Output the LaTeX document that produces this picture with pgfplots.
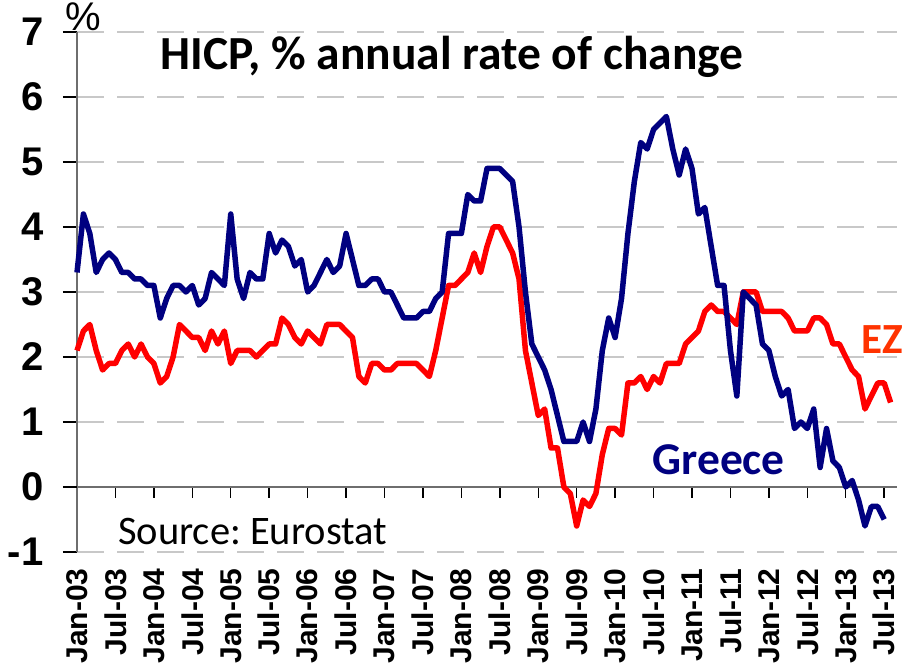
\documentclass[border=0pt]{standalone}
\usepackage{fontspec}
\setmainfont{Carlito}
\newfontfamily\arial{Liberation Sans}
\usepackage{pgfplots}
\pgfplotsset{compat=1.18}
\usepackage{pgfplotstable}
\definecolor{grc}{RGB}{0,0,128}
\definecolor{ezc}{RGB}{255,0,0}
\definecolor{ezlab}{RGB}{255,51,0}
\definecolor{gridc}{RGB}{200,200,200}
\definecolor{axc}{RGB}{110,110,110}

% Greece, monthly, Jan-03 .. Jul-13
\pgfplotstableread{
v
3.3
4.2
3.9
3.3
3.5
3.6
3.5
3.3
3.3
3.2
3.2
3.1
3.1
2.6
2.9
3.1
3.1
3.0
3.1
2.8
2.9
3.3
3.2
3.1
4.2
3.2
2.9
3.3
3.2
3.2
3.9
3.6
3.8
3.7
3.4
3.5
3.0
3.1
3.3
3.5
3.3
3.4
3.9
3.5
3.1
3.1
3.2
3.2
3.0
3.0
2.8
2.6
2.6
2.6
2.7
2.7
2.9
3.0
3.9
3.9
3.9
4.5
4.4
4.4
4.9
4.9
4.9
4.8
4.7
4.0
3.0
2.2
2.0
1.8
1.5
1.1
0.7
0.7
0.7
1.0
0.7
1.2
2.1
2.6
2.3
2.9
3.9
4.7
5.3
5.2
5.5
5.6
5.7
5.2
4.8
5.2
4.9
4.2
4.3
3.7
3.1
3.1
2.1
1.4
3.0
2.9
2.8
2.2
2.1
1.7
1.4
1.5
0.9
1.0
0.9
1.2
0.3
0.9
0.4
0.3
0.0
0.1
-0.2
-0.6
-0.3
-0.3
-0.5
}\greece

% Euro zone, monthly, Jan-03 .. Aug-13
\pgfplotstableread{
v
2.1
2.4
2.5
2.1
1.8
1.9
1.9
2.1
2.2
2.0
2.2
2.0
1.9
1.6
1.7
2.0
2.5
2.4
2.3
2.3
2.1
2.4
2.2
2.4
1.9
2.1
2.1
2.1
2.0
2.1
2.2
2.2
2.6
2.5
2.3
2.2
2.4
2.3
2.2
2.5
2.5
2.5
2.4
2.3
1.7
1.6
1.9
1.9
1.8
1.8
1.9
1.9
1.9
1.9
1.8
1.7
2.1
2.6
3.1
3.1
3.2
3.3
3.6
3.3
3.7
4.0
4.0
3.8
3.6
3.2
2.1
1.6
1.1
1.2
0.6
0.6
0.0
-0.1
-0.6
-0.2
-0.3
-0.1
0.5
0.9
0.9
0.8
1.6
1.6
1.7
1.5
1.7
1.6
1.9
1.9
1.9
2.2
2.3
2.4
2.7
2.8
2.7
2.7
2.6
2.5
3.0
3.0
3.0
2.7
2.7
2.7
2.7
2.6
2.4
2.4
2.4
2.6
2.6
2.5
2.2
2.2
2.0
1.8
1.7
1.2
1.4
1.6
1.6
1.3
}\ez

\begin{document}
\frenchspacing
\begin{tikzpicture}
\useasboundingbox (0,0) rectangle (906bp,669bp);
% zero line with tick marks
\begin{axis}[
  at={(77bp,117bp)}, anchor=south west,
  scale only axis, width=820bp, height=520bp,
  xmin=0, xmax=128, ymin=-1, ymax=7,
  axis x line=middle, axis y line=none,
  axis line style={-},
  x axis line style={draw=axc, line width=1.6bp},
  xtick={0,6,...,126}, xticklabels={},
  ytick=\empty,
  tick align=outside, major tick length=11bp,
  xtick style={black, line width=1.4bp},
]
\end{axis}
% main axis
\begin{axis}[
  at={(77bp,117bp)}, anchor=south west,
  scale only axis, width=820bp, height=520bp,
  xmin=0, xmax=128, ymin=-1, ymax=7,
  axis y line=left, axis x line=bottom,
  axis line style={-},
  x axis line style={draw=none},
  y axis line style={draw=axc, line width=1.6bp},
  xtick={0,6,...,126},
  xticklabels={Jan-03,Jul-03,Jan-04,Jul-04,Jan-05,Jul-05,Jan-06,Jul-06,Jan-07,Jul-07,Jan-08,Jul-08,Jan-09,Jul-09,Jan-10,Jul-10,Jan-11,Jul-11,Jan-12,Jul-12,Jan-13,Jul-13},
  xtick style={draw=none},
  ytick={-1,1,2,3,4,5,6,7},
  yticklabels={-1,1,2,3,4,5,6,7},
  extra y ticks={0}, extra y tick labels={0},
  extra y tick style={grid=none},
  tick align=outside, major tick length=14bp,
  ytick style={black, line width=1.4bp},
  ymajorgrids,
  major grid style={gridc, line width=1.6bp, dash pattern=on 27bp off 13bp},
  xticklabel style={rotate=90, anchor=east, font=\arial\bfseries\fontsize{30bp}{30bp}\selectfont, xshift=1bp},
  yticklabel style={anchor=east, xshift=-16bp, font=\arial\bfseries\fontsize{40bp}{40bp}\selectfont},
  clip=false,
]
\addplot[ezc, line width=5.5bp, line join=round] table[x expr=\coordindex, y=v] {\ez};
\addplot[grc, line width=5.5bp, line join=round] table[x expr=\coordindex, y=v] {\greece};
\node[anchor=base west, inner sep=0pt, font=\fontsize{47.5bp}{47.5bp}\selectfont\bfseries] at (axis cs:13,6.42) {HICP, \% annual rate of change};
\node[anchor=base west, inner sep=0pt, font=\fontsize{40.5bp}{40.5bp}\selectfont] at (axis cs:6.4,-0.89) {Source: Eurostat};
\node[anchor=base west, inner sep=0pt, text=grc, font=\fontsize{45.5bp}{45.5bp}\selectfont\bfseries] at (axis cs:89.8,0.19) {Greece};
\node[anchor=base west, inner sep=0pt, text=ezlab, font=\fontsize{43bp}{43bp}\selectfont\bfseries] at (axis cs:122.4,2.06) {EZ};
\node[anchor=base west, inner sep=0pt, font=\arial\fontsize{40bp}{40bp}\selectfont] at (axis cs:-1.8,7.03) {\%};
\end{axis}
\end{tikzpicture}
\end{document}
